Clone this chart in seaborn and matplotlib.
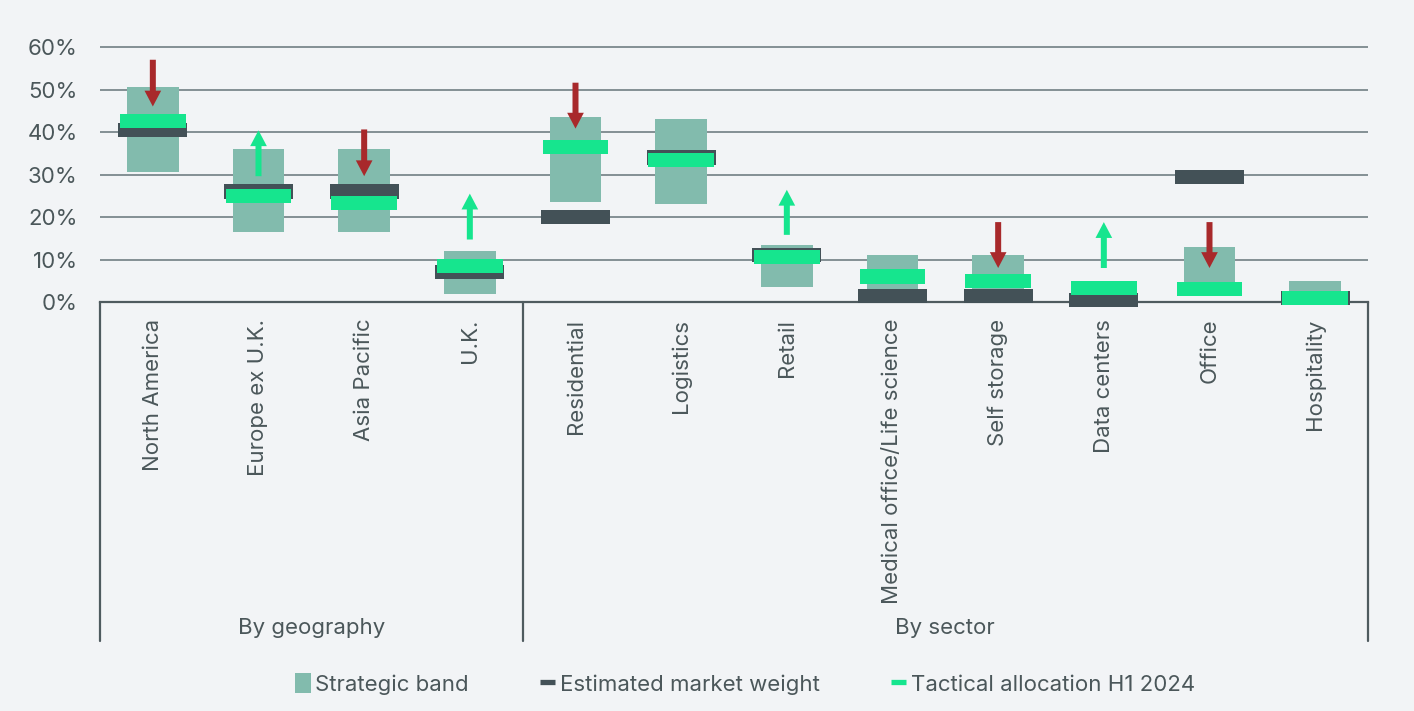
import seaborn as sns
import pandas as pd
import matplotlib.pyplot as plt
from matplotlib.patches import Patch
from matplotlib.lines import Line2D

categories = ["North America", "Europe ex U.K.", "Asia Pacific", "U.K.",
              "Residential", "Logistics", "Retail", "Medical office/Life science",
              "Self storage", "Data centers", "Office", "Hospitality"]
band_low = [30.5, 16.5, 16.5, 2.0, 23.5, 23.0, 3.5, 0.0, 0.0, 0.0, 2.0, 0.0]
band_high = [50.5, 36.0, 36.0, 12.0, 43.5, 43.0, 13.5, 11.0, 11.0, 4.5, 13.0, 5.0]
market_weight = [40.5, 26.0, 26.0, 7.0, 20.0, 34.0, 11.0, 1.5, 1.5, 0.5, 29.5, 1.0]
tactical = [42.5, 25.0, 23.2, 8.5, 36.5, 33.5, 10.6, 6.0, 5.0, 3.4, 3.0, 1.0]
# arrows: category index, start, end
arrow_cat = [0, 1, 2, 3, 4, 6, 8, 9, 10]
arrow_from = [57.0, 29.6, 40.6, 14.7, 51.6, 15.8, 18.8, 8.0, 18.8]
arrow_to = [46.0, 40.4, 29.6, 25.5, 40.8, 26.4, 8.0, 18.8, 8.0]
groups = ["By geography", "By sector"]
group_bounds = [(-0.5, 3.5), (3.5, 11.5)]
yticks = [0, 10, 20, 30, 40, 50, 60]

BG = "#f2f4f6"
TXT = "#4b575a"
BAND = "#82bbad"
DARK = "#435157"
GREEN = "#16e58e"
RED = "#a8292b"
FS = 16

sns.set_theme(style="white")
plt.rcParams["font.family"] = ["Inter", "DejaVu Sans"]
plt.rcParams["text.color"] = TXT

df = pd.DataFrame({"cat": categories, "low": band_low, "high": band_high,
                   "mw": market_weight, "tac": tactical})
df["span"] = df["high"] - df["low"]
mh = 3.3  # marker thickness in % units
df["mh"] = mh

fig = plt.figure(figsize=(14.14, 7.11), dpi=100, facecolor=BG)
ax = fig.add_axes([100 / 1414, 1 - 302 / 711, 1268 / 1414, 61 * 4.25 / 711])
ax.set_facecolor(BG)

bar_kw = dict(saturation=1, errorbar=None, ax=ax, linewidth=0, edgecolor="none")
sns.barplot(data=df, x="cat", y="span", bottom=df["low"], width=0.49,
            color=BAND, zorder=2, **bar_kw)
sns.barplot(data=df, x="cat", y="mh", bottom=df["mw"] - mh / 2, width=0.65,
            color=DARK, zorder=3, clip_on=False, **bar_kw)
sns.barplot(data=df, x="cat", y="mh", bottom=df["tac"] - mh / 2, width=0.62,
            color=GREEN, zorder=4, clip_on=False, **bar_kw)

for i, a, b in zip(arrow_cat, arrow_from, arrow_to):
    col = RED if b < a else GREEN
    ax.annotate("", xy=(i, b), xytext=(i, a),
                arrowprops=dict(arrowstyle="simple,tail_width=0.36,head_width=1.0,head_length=0.95",
                                color=col, mutation_scale=12, shrinkA=0, shrinkB=0, lw=0),
                zorder=5)

ax.set_xlim(-0.5, 11.5)
ax.set_ylim(0, 61)
ax.set_yticks(yticks)
ax.set_yticklabels([f"{v}%" for v in yticks], fontsize=FS, color=TXT)
ax.yaxis.grid(True, color="#66757a", lw=1.1, zorder=0)
ax.set_axisbelow(True)
ax.tick_params(axis="y", length=0, pad=16)
ax.set_xticks(range(len(categories)))
ax.set_xticklabels(categories, rotation=90, fontsize=FS, color=TXT, va="top")
ax.tick_params(axis="x", length=0, pad=12)
ax.set_xlabel("")
ax.set_ylabel("")
for s in ["left", "right", "top"]:
    ax.spines[s].set_visible(False)
ax.spines["bottom"].set_color("#4f5b5f")
ax.spines["bottom"].set_linewidth(1.6)

y_end = -(641 - 302) / 4.25
for x in [-0.5, 3.5, 11.5]:
    ax.plot([x, x], [0, y_end], color="#4f5b5f", lw=1.6, clip_on=False, zorder=1)
for g, (a, b) in zip(groups, group_bounds):
    ax.text((a + b) / 2, -(628 - 302) / 4.25, g, ha="center", va="center",
            fontsize=FS, color=TXT, clip_on=False)

handles = [Patch(facecolor=BAND, edgecolor="none"),
           Line2D([0], [0], color=DARK, lw=3.8, solid_capstyle="butt"),
           Line2D([0], [0], color=GREEN, lw=3.8, solid_capstyle="butt")]
fig.legend(handles, ["Strategic band", "Estimated market weight", "Tactical allocation H1 2024"],
           loc="center", bbox_to_anchor=(745 / 1414, 1 - 684 / 711), ncol=3, frameon=False,
           fontsize=FS, handlelength=0.7, handleheight=1.0, handletextpad=0.2,
           columnspacing=3.2, labelcolor=TXT)

fig.savefig("out.png", dpi=100, facecolor=BG)
